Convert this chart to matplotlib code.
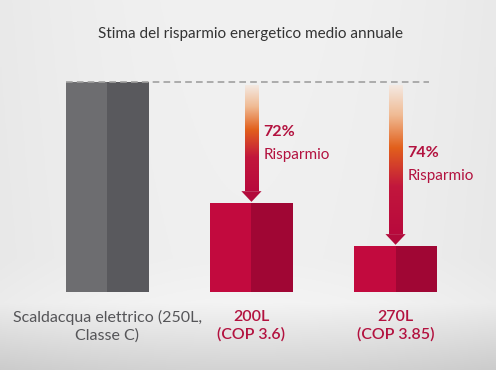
import numpy as np
import matplotlib.pyplot as plt
from matplotlib.colors import LinearSegmentedColormap

# dati (altezza relativa, scaldacqua = 100)
categorie = ["Scaldacqua elettrico (250L,\nClasse C)", "200L\n(COP 3.6)", "270L\n(COP 3.85)"]
valori = [100, 42.5, 22.0]
risparmio = [None, "72%", "74%"]

plt.rcParams['font.family'] = ['Lato', 'DejaVu Sans']

fig = plt.figure(figsize=(4.96, 3.70), dpi=100)

# sfondo sfumato grigio
bg = fig.add_axes([0, 0, 1, 1], zorder=-10)
yy = np.linspace(0, 1, 200)[:, None]
xx = np.linspace(-1, 1, 200)[None, :]
v = np.interp(yy, [0, 0.7, 0.82, 1], [0.945, 0.94, 0.955, 0.83])
v = v - 0.03 * xx ** 2
bg.imshow(np.dstack([v, v, v]), extent=[0, 1, 0, 1], aspect='auto', origin='upper')
bg.axis('off')

ax = fig.add_axes([0, 0.2116, 1, 0.566])
ax.set_xlim(-0.745, 2.697)
ax.set_ylim(0, 100)
ax.axis('off')

x = np.arange(len(valori))
w = 0.576
chiari = ["#6d6d70", "#c20a3e", "#c20a3e"]
scuri = ["#59595d", "#a00634", "#a00634"]
ax.bar(x - w / 2, valori, width=w / 2, align='edge', color=chiari, zorder=2)
ax.bar(x, valori, width=w / 2, align='edge', color=scuri, zorder=2)

# linea tratteggiata di riferimento
ax.plot([x[0] - w / 2, x[2] + 0.232], [valori[0], valori[0]], color="#a0a0a0",
        lw=1.2, dashes=(4, 2.5), zorder=3, clip_on=False)

# frecce con sfumatura
cmap = LinearSegmentedColormap.from_list("freccia", [
    (0.0, "#f4e9e2"), (0.2, "#f0bb94"), (0.42, "#e2601c"),
    (0.68, "#c2173d"), (1.0, "#b8093c")])
sw = 0.046
hw = 0.07
hl = 5.5
for i in (1, 2):
    cima = 98.6
    base = valori[i] + hl
    grad = np.linspace(0, 1, 256)[:, None]
    ax.imshow(grad, cmap=cmap, extent=[x[i] - sw, x[i] + sw, base, cima],
              aspect='auto', origin='upper', zorder=3)
    ax.fill([x[i] - hw, x[i] + hw, x[i]], [base, base, valori[i] + 0.4],
            color="#b20a3b", lw=0, zorder=3)
    ym = (100 + valori[i]) / 2 - 0.3
    ax.text(x[i] + 0.083, ym + 5.5, risparmio[i], color="#b3123f",
            fontsize=11.5, fontweight='bold', va='center', ha='left')
    ax.text(x[i] + 0.083, ym - 5.5, "Risparmio", color="#b3123f",
            fontsize=11, va='center', ha='left')

# etichette categorie
colori_etichette = ["#555558", "#b3123f", "#b3123f"]
for i, lab in enumerate(categorie):
    ax.text(x[i], -8.5, lab, ha='center', va='top', fontsize=11.5,
            color=colori_etichette[i], linespacing=1.35,
            fontweight='normal' if i == 0 else 'semibold')

fig.text(0.505, 0.897, "Stima del risparmio energetico medio annuale",
         ha='center', va='baseline', fontsize=11, color="#333333")

fig.savefig("out.png", dpi=100)
